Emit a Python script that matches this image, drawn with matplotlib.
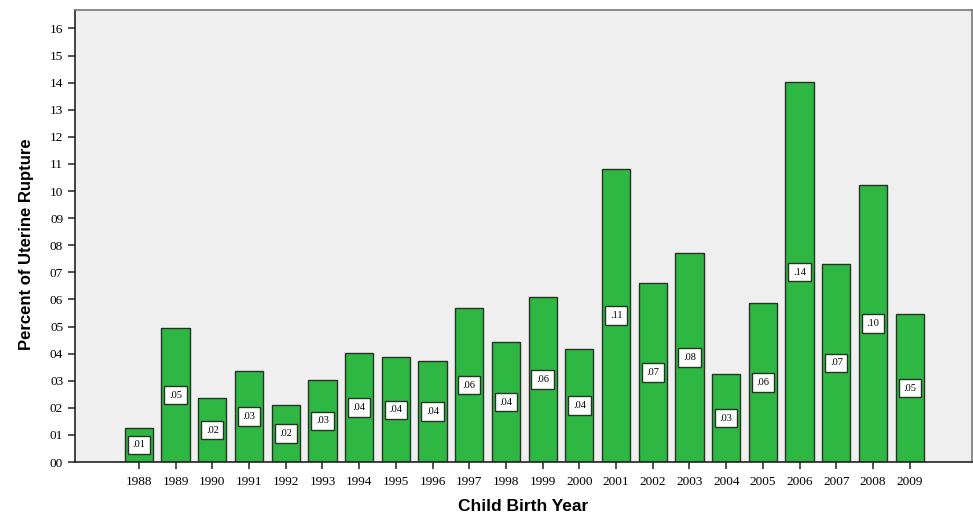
import numpy as np
from matplotlib import pyplot as plt
from matplotlib import ticker

# data (fraction of deliveries)
years = ['1988', '1989', '1990', '1991', '1992', '1993', '1994', '1995', '1996', '1997', '1998',
         '1999', '2000', '2001', '2002', '2003', '2004', '2005', '2006', '2007', '2008', '2009']
rupture = [0.0127, 0.0493, 0.0235, 0.0336, 0.0210, 0.0303, 0.0401, 0.0386, 0.0374, 0.0567, 0.0442,
           0.0609, 0.0416, 0.1081, 0.0661, 0.0771, 0.0324, 0.0586, 0.1402, 0.0732, 0.1022, 0.0545]
box_labels = ['.01', '.05', '.02', '.03', '.02', '.03', '.04', '.04', '.04', '.06', '.04',
              '.06', '.04', '.11', '.07', '.08', '.03', '.06', '.14', '.07', '.10', '.05']
y_ticks = np.arange(0, 0.17, 0.01)

green = '#2eb843'
serif = ['Liberation Serif', 'DejaVu Serif']
sans = ['Liberation Sans', 'DejaVu Sans']

fig = plt.figure(figsize=(9.73, 5.2), dpi=100)
ax = fig.add_axes([0.0771, 0.1115, 0.922, 0.8693])
ax.set_facecolor('#efefef')

x = np.arange(len(years))
ax.bar(x, rupture, width=0.77, color=green, edgecolor='#263326', linewidth=1.0, zorder=2)

# value boxes in the middle of each bar
for xi, v, lab in zip(x, rupture, box_labels):
    ax.text(xi, v / 2, lab, ha='center', va='center', fontsize=7.5, family=serif, zorder=3,
            bbox=dict(boxstyle='square,pad=0.45', facecolor='white', edgecolor='#263326', linewidth=1.0))

ax.set_xlim(-1.74, 22.7)
ax.set_ylim(0, 0.1668)
ax.set_xticks(x, years)
ax.set_yticks(y_ticks)
ax.yaxis.set_major_formatter(ticker.FuncFormatter(lambda v, p: '%02d' % int(round(v * 100))))
ax.tick_params(axis='both', direction='out', length=5, width=1.2, color='#333333', labelsize=9.5)
ax.tick_params(axis='x', pad=5)
for lab in ax.get_xticklabels() + ax.get_yticklabels():
    lab.set_family(serif)

for side in ['top', 'right']:
    ax.spines[side].set_color('#777777')
    ax.spines[side].set_linewidth(1.2)
for side in ['left', 'bottom']:
    ax.spines[side].set_color('#222222')
    ax.spines[side].set_linewidth(1.2)

ax.set_xlabel('Child Birth Year', fontsize=12.5, fontweight='bold', family=sans, labelpad=8)
ax.set_ylabel('Percent of Uterine Rupture', fontsize=12, fontweight='bold', family=sans)
ax.yaxis.set_label_coords(-0.046, 0.482)

plt.savefig('out.png', dpi=100)
